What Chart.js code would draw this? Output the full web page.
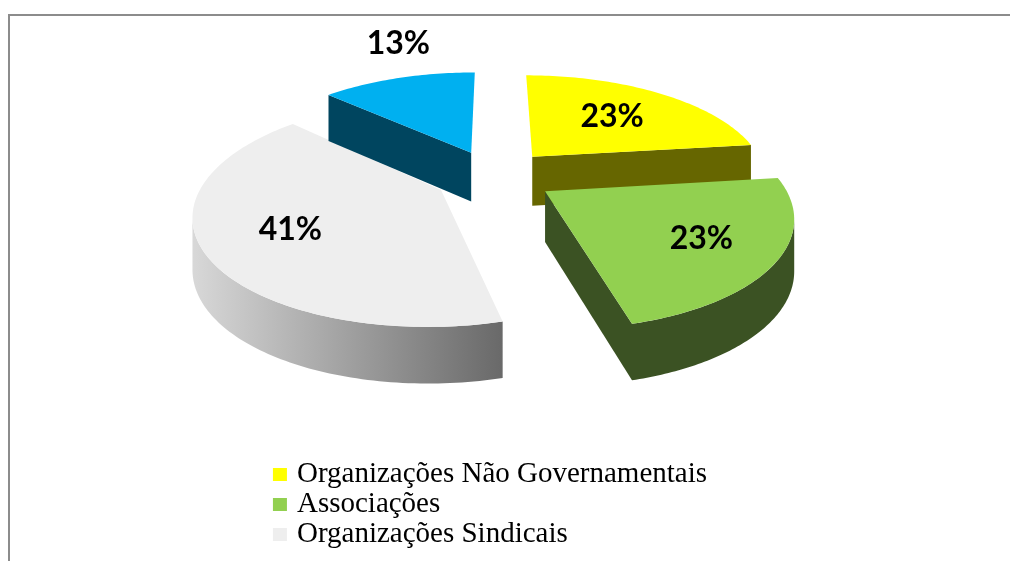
<!DOCTYPE html>
<html>
<head>
<meta charset="utf-8">
<script src="https://cdn.jsdelivr.net/npm/chart.js@4.4.1/dist/chart.umd.min.js"></script>
<style>
  html, body { margin: 0; padding: 0; background: #fff; overflow: hidden; }
  #grafico { display: block; }
</style>
</head>
<body>
<canvas id="grafico" width="1010" height="561"></canvas>
<script>
// dati del grafico
const categorie = ["Organizações Não Governamentais", "Associações", "Organizações Sindicais", "Outros"];
const percentuali = [23, 23, 41, 13];

// colori: faccia superiore e lato (sinistra -> destra)
const coloriSopra = ["#ffff00", "#92d050", "#eeeeee", "#00b0f0"];
const coloriLato = [["#666600", "#666600"], ["#3b5223", "#3b5223"], ["#d8d8d8", "#696969"], ["#00455f", "#00455f"]];
const posEtichetta = [0.6, 0.7, 0.66, 1];

// parametri della prospettiva 3D
const inclinazione = 0.443;  // schiacciamento verticale
const distanza = 0.00083;    // forza della prospettiva
const profondita = 50;       // spessore della torta
const esplosione = 60;       // distacco delle fette
const centroY = 176;         // centro della torta sullo schermo

// punto del piano (u verso destra, v verso chi guarda) -> schermo
const proietta = (cx, u, v) => {
    const w = 1 - distanza * v;
    return { x: cx + u / w, y: centroY + inclinazione * v / w, w };
};

// geometria della fetta a partire dall'arco calcolato da Chart.js
const geometria = (arc) => {
    const mid = (arc.startAngle + arc.endAngle) / 2;
    const eu = esplosione * Math.cos(mid), ev = esplosione * Math.sin(mid);
    return {
        mid,
        apice: proietta(arc.x, eu, ev),
        punto: (t, rho) => proietta(arc.x, eu + rho * Math.cos(t), ev + rho * Math.sin(t))
    };
};

// spessore sullo schermo (prospettiva attenuata)
const spessore = (P) => profondita / Math.sqrt(P.w);

const disegnaLati = (ctx, arc, g, i) => {
    const r = arc.outerRadius;
    const a1 = arc.startAngle, a2 = arc.endAngle;
    const [c1, c2] = coloriLato[i];
    const A = g.apice;
    ctx.save();

    // facce radiali rivolte verso chi guarda
    const faccia = (ang) => {
        const P = g.punto(ang, r);
        ctx.beginPath();
        ctx.moveTo(A.x, A.y);
        ctx.lineTo(P.x, P.y);
        ctx.lineTo(P.x, P.y + spessore(P));
        ctx.lineTo(A.x, A.y + spessore(A));
        ctx.closePath();
        ctx.fillStyle = c1;
        ctx.fill();
    };
    if (Math.cos(a1) < -1e-6) faccia(a1);
    if (Math.cos(a2) > 1e-6) faccia(a2);

    // contorno apparente: punti più a destra e più a sinistra del cerchio
    let tDx = 0, tSx = Math.PI, xMin = Infinity, xMax = -Infinity;
    for (let k = 0; k < 720; k++) {
        const t = -Math.PI / 2 + k * Math.PI / 360;
        const P = g.punto(t, r);
        if (P.x < xMin) { xMin = P.x; tSx = t; }
        if (P.x > xMax) { xMax = P.x; tDx = t; }
    }

    // bordo esterno, solo la parte davanti
    const s = Math.max(a1, tDx), e = Math.min(a2, tSx);
    if (e > s) {
        const n = 80;
        const sopra = [];
        for (let k = 0; k <= n; k++) sopra.push(g.punto(s + (e - s) * k / n, r));
        const xs = sopra.map(P => P.x);
        const grad = ctx.createLinearGradient(Math.min(...xs), 0, Math.max(...xs), 0);
        grad.addColorStop(0, c1);
        grad.addColorStop(1, c2);
        ctx.beginPath();
        sopra.forEach((P, k) => k ? ctx.lineTo(P.x, P.y) : ctx.moveTo(P.x, P.y));
        for (let k = n; k >= 0; k--) ctx.lineTo(sopra[k].x, sopra[k].y + spessore(sopra[k]));
        ctx.closePath();
        ctx.fillStyle = grad;
        ctx.fill();
    }
    ctx.restore();
};

const disegnaSopra = (ctx, arc, g) => {
    const r = arc.outerRadius;
    const a1 = arc.startAngle, a2 = arc.endAngle;
    const n = Math.max(8, Math.ceil((a2 - a1) / 0.02));
    ctx.save();
    ctx.beginPath();
    ctx.moveTo(g.apice.x, g.apice.y);
    for (let k = 0; k <= n; k++) {
        const P = g.punto(a1 + (a2 - a1) * k / n, r);
        ctx.lineTo(P.x, P.y);
    }
    ctx.closePath();
    ctx.fillStyle = arc.options.backgroundColor;
    ctx.fill();
    ctx.restore();
};

// plugin: torta 3D (ogni arco di Chart.js viene disegnato in prospettiva)
const torta3d = {
    id: 'torta3d',
    afterUpdate(chart) {
        const meta = chart.getDatasetMeta(0);
        meta.data.forEach((el, i) => {
            if (el._3d) return;
            el.draw = function (ctx) {
                if (this.circumference === 0) return;
                const g = geometria(this);
                disegnaLati(ctx, this, g, i);
                disegnaSopra(ctx, this, g);
            };
            el._3d = true;
        });
    },
    afterDatasetsDraw(chart) {
        const ctx = chart.ctx;
        const meta = chart.getDatasetMeta(0);
        ctx.save();
        ctx.font = 'bold 32px Lato';
        ctx.fillStyle = '#000';
        ctx.textAlign = 'center';
        ctx.textBaseline = 'middle';
        meta.data.forEach((arc, i) => {
            const g = geometria(arc);
            const p = g.punto(g.mid, arc.outerRadius * posEtichetta[i]);
            let y = p.y;
            if (posEtichetta[i] >= 1) y -= 34; // etichetta fuori dalla fetta
            ctx.fillText(percentuali[i] + '%', p.x, y);
        });
        ctx.restore();
    }
};

// plugin: cornice e legenda verticale
const cornice = {
    id: 'cornice',
    beforeDraw(chart) {
        const ctx = chart.ctx;
        ctx.save();
        ctx.fillStyle = '#8c8c8c';
        ctx.fillRect(8, 14, chart.width - 8, 2);
        ctx.fillRect(8, 14, 2, chart.height - 14);
        ctx.restore();
    },
    afterDraw(chart) {
        const ctx = chart.ctx;
        const colori = chart.data.datasets[0].backgroundColor;
        const cx = chart.getDatasetMeta(0).data[0].x;
        ctx.save();
        ctx.font = '29px "Liberation Serif"';
        ctx.textBaseline = 'alphabetic';
        const larg = Math.max(...chart.data.labels.map(l => ctx.measureText(l).width));
        const x0 = cx - 4 - (24 + larg) / 2;
        chart.data.labels.forEach((lab, i) => {
            const y = 482 + i * 30;
            if (y + 8 > chart.height) return; // la riga non entra nel riquadro
            ctx.fillStyle = colori[i];
            ctx.fillRect(x0, y - 14, 14, 13);
            ctx.fillStyle = '#000';
            ctx.fillText(lab, x0 + 24, y);
        });
        ctx.restore();
    }
};

const ctx = document.getElementById('grafico').getContext('2d');
new Chart(ctx, {
    type: 'pie',
    data: {
        labels: categorie,
        datasets: [{
            data: percentuali,
            backgroundColor: coloriSopra,
            borderWidth: 0,
            hoverBorderWidth: 0,
            hoverOffset: 0
        }]
    },
    options: {
        responsive: false,
        animation: false,
        devicePixelRatio: 1,
        events: [],
        layout: { padding: { top: 0, bottom: 91, left: 0, right: 22 } },
        plugins: {
            legend: { display: false },
            tooltip: { enabled: false }
        }
    },
    plugins: [torta3d, cornice]
});
</script>
</body>
</html>
